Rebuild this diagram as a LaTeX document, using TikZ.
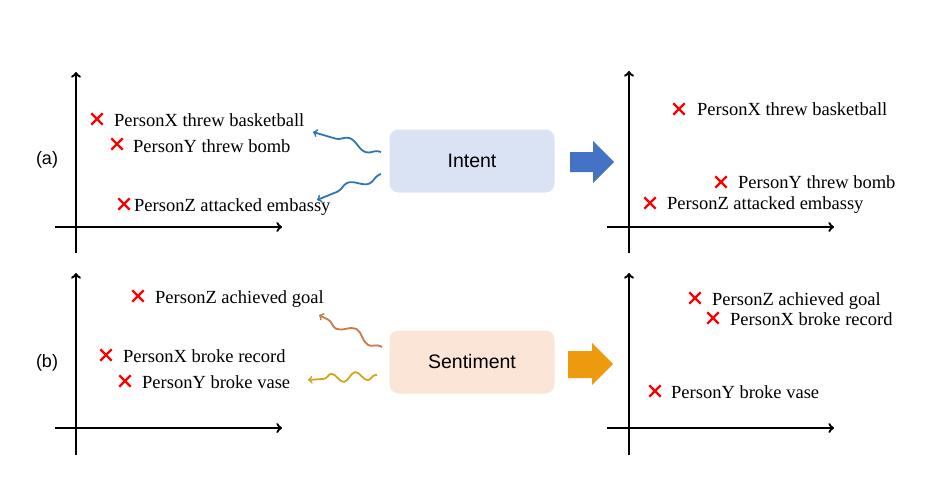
\documentclass[tikz,border=0pt]{standalone}
\usepackage{fontspec}
\setmainfont{Liberation Serif}
\newfontfamily\labelfont{Liberation Sans}
\usetikzlibrary{arrows,decorations.pathmorphing,shapes.misc}

\definecolor{intentfill}{HTML}{DAE3F3}
\definecolor{sentfill}{HTML}{FBE5D6}
\definecolor{intentblue}{HTML}{4472C4}
\definecolor{sentorange}{HTML}{EE9A0E}
\definecolor{wavyblue}{HTML}{2E75B6}
\definecolor{wavybrown}{HTML}{C97A4A}
\definecolor{wavygold}{HTML}{D4A41E}

\tikzset{
  axis/.style={line width=2.4pt, ->, >=to},
  redx/.style={cross out, draw=red, line width=2.4pt, minimum size=9pt, inner sep=0pt},
  event/.style={anchor=base west, inner sep=0pt, font=\fontsize{18.5}{20}\selectfont},
  panel/.style={font=\labelfont\fontsize{18}{20}\selectfont},
  box/.style={rounded corners=9pt, minimum width=165pt, minimum height=63pt, font=\labelfont\fontsize{19.5}{22}\selectfont},
  wavy/.style={line width=1.8pt, ->, >=to, decorate, decoration={snake, amplitude=4.5pt, segment length=#1, post length=7pt, pre length=2pt}}
}

\begin{document}
\begin{tikzpicture}[x=1pt, y=-1pt]
            %\draw[lightgray] (0, 0) grid (941, 484);
            \useasboundingbox (0, 0) rectangle (941, 484);

            % left plots
            \draw[axis] (76, 253) -- (76, 72);
            \draw[axis] (55, 227) -- (282, 227);
            \draw[axis] (76, 455) -- (76, 273);
            \draw[axis] (55, 428) -- (282, 428);
            \node[panel] (pa) at (47, 160) {(a)};
            \node[panel] (pb) at (47, 363) {(b)};

            \node[redx] (xa1) at (97, 119) {};
            \node[event] (ta1) at (114, 126) {PersonX threw basketball};
            \node[redx] (xa2) at (117, 144) {};
            \node[event] (ta2) at (133, 152) {PersonY threw bomb};
            \node[redx] (xa3) at (124, 204) {};
            \node[event] (ta3) at (134, 211) {PersonZ attacked embassy};

            \node[redx] (xb1) at (138, 296) {};
            \node[event] (tb1) at (155, 303) {PersonZ achieved goal};
            \node[redx] (xb2) at (106, 355) {};
            \node[event] (tb2) at (123, 362) {PersonX broke record};
            \node[redx] (xb3) at (125, 381) {};
            \node[event] (tb3) at (142, 388) {PersonY broke vase};

            % boxes in the middle
            \node[box, fill=intentfill] (intent) at (472, 161) {Intent};
            \node[box, fill=sentfill] (sentiment) at (472, 362) {Sentiment};

            \coordinate (ia1) at (381, 152);
            \coordinate (ib1) at (313, 132);
            \coordinate (ia2) at (381, 174);
            \coordinate (ib2) at (317, 200);
            \coordinate (sa1) at (382, 347);
            \coordinate (sb1) at (319, 315);
            \coordinate (sa2) at (377, 375);
            \coordinate (sb2) at (308, 380);
            \draw[wavy=40pt, wavyblue] (ia1) -- (ib1);
            \draw[wavy=40pt, wavyblue] (ia2) -- (ib2);
            \draw[wavy=36pt, wavybrown] (sa1) -- (sb1);
            \draw[wavy=24pt, wavygold] (sa2) -- (sb2);

            % big arrows
            \fill[intentblue] (570, 152) -- (593, 152) -- (593, 141) -- (614, 162)
                -- (593, 183) -- (593, 172) -- (570, 172) -- cycle;
            \fill[sentorange] (568, 351) -- (592, 351) -- (592, 343) -- (613, 364)
                -- (592, 385) -- (592, 378) -- (568, 378) -- cycle;

            % right plots
            \draw[axis] (629, 253) -- (629, 71);
            \draw[axis] (607, 227) -- (834, 227);
            \draw[axis] (629, 455) -- (629, 273);
            \draw[axis] (607, 428) -- (834, 428);

            \node[redx] (xc1) at (679, 109) {};
            \node[event] (tc1) at (697, 115) {PersonX threw basketball};
            \node[redx] (xc2) at (721, 182) {};
            \node[event] (tc2) at (738, 188) {PersonY threw bomb};
            \node[redx] (xc3) at (650, 203) {};
            \node[event] (tc3) at (667, 209) {PersonZ attacked embassy};

            \node[redx] (xd1) at (695, 298) {};
            \node[event] (td1) at (712, 305) {PersonZ achieved goal};
            \node[redx] (xd2) at (713, 318) {};
            \node[event] (td2) at (730, 325) {PersonX broke record};
            \node[redx] (xd3) at (655, 391) {};
            \node[event] (td3) at (671, 398) {PersonY broke vase};
        \end{tikzpicture}
\end{document}
